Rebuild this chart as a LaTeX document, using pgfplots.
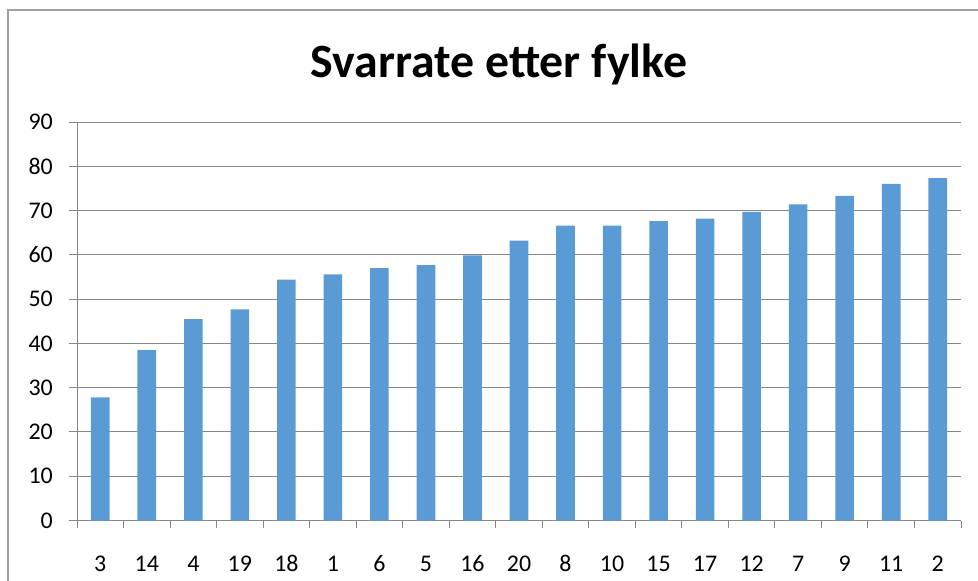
\documentclass[border=0pt]{standalone}
\usepackage{fontspec}
\setmainfont{Carlito}
\usepackage{pgfplots}
\pgfplotsset{compat=1.18}
\definecolor{barblue}{HTML}{5B9BD5}
\definecolor{gridgray}{HTML}{878787}
\definecolor{framegray}{HTML}{A0A0A0}
\begin{document}
\begin{tikzpicture}
\path[use as bounding box] (0,0) rectangle (978bp,581bp);
\draw[framegray, line width=1.2bp] (8bp,0) -- (8bp,571bp) -- (978bp,571bp);
\node[font=\fontsize{48}{48}\selectfont\bfseries, anchor=base] at (499bp,503bp) {Svarrate etter fylke};
\begin{axis}[
  at={(77bp,60.5bp)}, anchor=south west,
  scale only axis, width=884bp, height=398.5bp,
  ymin=0, ymax=90, ytick={0,10,...,90},
  xmin=-0.5, xmax=18.5,
  xtick={0,...,18},
  xticklabels={3,14,4,19,18,1,6,5,16,20,8,10,15,17,12,7,9,11,2},
  axis x line*=bottom, axis y line*=left,
  axis line style={gridgray, line width=1bp},
  every inner x axis line/.append style={-},
  every inner y axis line/.append style={-},
  ymajorgrids, major grid style={gridgray, line width=1bp},
  tick align=outside,
  ytick style={gridgray, line width=1bp},
  major tick length=8bp,
  xtick style={draw=none},
  extra x ticks={-0.5,0.5,...,18.5},
  extra x tick labels={},
  extra x tick style={grid=none, xtick style={draw=gridgray, line width=1bp}, major tick length=8bp},
  /pgf/number format/assume math mode=true,
  ticklabel style={font=\fontsize{24}{24}\selectfont, text=black},
  yticklabel style={inner sep=0pt, xshift=-16bp},
  xticklabel style={inner sep=0pt, anchor=base, yshift=-42.5bp},
  ybar, bar width=0.4,
]
\addplot[fill=barblue, draw=none] coordinates {
(0,27.8) (1,38.5) (2,45.5) (3,47.7) (4,54.4) (5,55.6) (6,57.0) (7,57.7) (8,59.9)
(9,63.2) (10,66.6) (11,66.6) (12,67.6) (13,68.2) (14,69.7) (15,71.4) (16,73.3) (17,76.0) (18,77.3)
};
\end{axis}
\end{tikzpicture}
\end{document}
